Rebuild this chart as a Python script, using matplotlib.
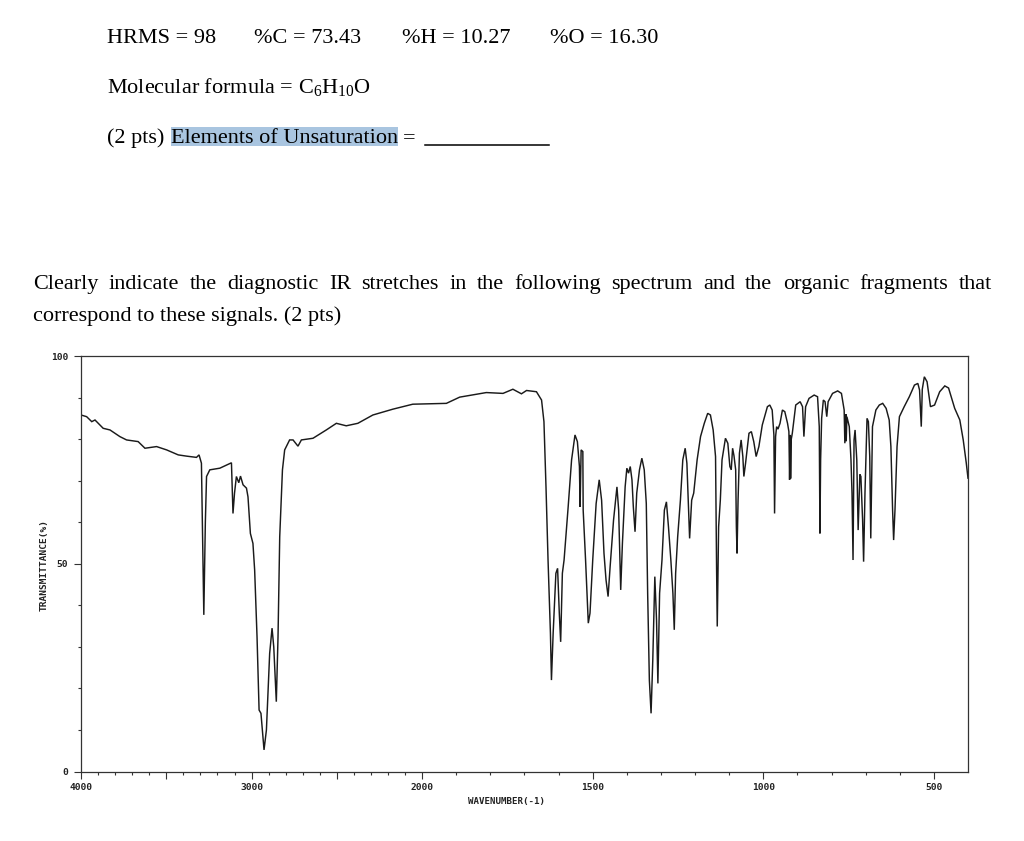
import numpy as np
import matplotlib
matplotlib.use("Agg")
import matplotlib.pyplot as plt
from matplotlib.ticker import FixedLocator, FuncFormatter
from matplotlib.patches import Rectangle
from matplotlib.lines import Line2D

# ---------------- data ----------------
wavenumber = [4000, 3967, 3937, 3918, 3870, 3830, 3772, 3733, 3665, 3625, 3557, 3498, 3430, 3381,
              3323, 3308, 3294, 3284, 3280, 3271, 3264, 3245, 3186, 3118, 3112, 3109, 3100, 3089,
              3075, 3065, 3050, 3030, 3021, 3007, 2992, 2982, 2968, 2956, 2945, 2927, 2913, 2894,
              2880, 2870, 2855, 2845, 2835, 2819, 2806, 2777, 2757, 2728, 2708, 2640, 2562, 2503,
              2445, 2377, 2289, 2172, 2055, 1929, 1890, 1812, 1763, 1734, 1709, 1694, 1665, 1650,
              1643, 1637, 1631, 1624, 1621, 1616, 1608, 1603, 1598, 1594, 1589, 1584, 1572, 1562,
              1552, 1545, 1539, 1537, 1534, 1529, 1528, 1521, 1513, 1508, 1500, 1490, 1481, 1474,
              1467, 1461, 1455, 1449, 1439, 1429, 1424, 1418, 1413, 1405, 1400, 1395, 1390, 1385,
              1381, 1376, 1371, 1363, 1356, 1349, 1343, 1339, 1334, 1329, 1324, 1318, 1313, 1309,
              1304, 1297, 1290, 1284, 1278, 1271, 1265, 1261, 1257, 1251, 1243, 1236, 1229, 1224,
              1219, 1216, 1210, 1204, 1194, 1184, 1173, 1163, 1155, 1147, 1140, 1137, 1135, 1131,
              1126, 1121, 1111, 1104, 1098, 1094, 1090, 1086, 1081, 1079, 1077, 1074, 1070, 1065,
              1060, 1057, 1052, 1042, 1035, 1028, 1021, 1013, 1003, 988, 981, 974, 969, 967, 964,
              961, 957, 951, 944, 937, 929, 925, 923, 921, 920, 918, 915, 905, 892, 885, 881, 876,
              866, 851, 841, 836, 834, 832, 829, 824, 819, 814, 810, 797, 782, 771, 763, 761, 758,
              757, 755, 748, 743, 740, 737, 734, 731, 726, 722, 717, 714, 709, 706, 702, 696, 692,
              688, 685, 680, 670, 660, 650, 640, 631, 626, 621, 618, 614, 608, 601, 587, 572, 557,
              547, 542, 537, 534, 528, 520, 510, 498, 483, 468, 457, 439, 424, 414, 405, 400]
transmittance = [85.8, 85.4, 84.2, 84.6, 82.6, 82.2, 80.6, 79.8, 79.4, 77.8, 78.2, 77.4, 76.2, 75.9,
                 75.6, 76.2, 74.2, 48.5, 37.7, 60.0, 71.0, 72.6, 73.0, 74.3, 66.1, 62.1, 67.0, 71.0,
                 69.5, 71.1, 69.0, 68.2, 66.1, 57.3, 54.9, 48.5, 32.4, 14.8, 14.0, 5.2, 10.0, 28.4,
                 34.5, 30.0, 16.8, 32.4, 56.5, 72.6, 77.4, 79.8, 79.8, 78.3, 79.8, 80.2, 82.2, 83.8,
                 83.2, 83.8, 85.8, 87.2, 88.4, 88.6, 90.1, 91.2, 91.0, 92.0, 90.9, 91.7, 91.4, 89.4,
                 84.2, 68.5, 50.9, 33.3, 22.0, 33.3, 47.7, 48.9, 38.1, 31.2, 47.7, 50.9, 63.7, 75.0,
                 81.0, 79.4, 73.4, 63.7, 77.4, 77.0, 62.9, 50.9, 35.7, 38.1, 50.9, 64.5, 70.2, 65.3,
                 52.5, 46.1, 42.1, 49.3, 60.5, 68.5, 62.9, 43.7, 54.9, 68.5, 73.0, 71.8, 73.4, 70.2,
                 63.7, 57.7, 67.0, 72.6, 75.4, 72.6, 64.5, 42.9, 22.0, 14.0, 26.8, 46.9, 36.5, 21.2,
                 42.9, 50.9, 62.9, 64.9, 58.9, 50.9, 42.9, 34.1, 47.7, 56.5, 65.3, 75.0, 77.8, 74.2,
                 62.9, 56.1, 65.3, 67.0, 75.0, 80.6, 83.8, 86.2, 85.8, 82.2, 75.8, 49.3, 34.9, 58.9,
                 65.3, 75.0, 80.2, 79.0, 73.4, 72.6, 77.8, 76.0, 72.6, 58.9, 52.5, 65.3, 76.6, 79.8,
                 75.8, 71.0, 74.2, 81.4, 81.8, 79.4, 75.8, 78.2, 83.4, 87.8, 88.2, 87.0, 81.0, 62.1, 80.6,
                 83.0, 82.4, 83.8, 87.0, 86.6, 83.8, 81.8, 70.2, 81.0, 70.5, 80.0, 81.4, 88.2, 89.0, 87.8, 80.6, 87.8,
                 89.8, 90.6, 90.2, 83.0, 57.3, 75.0, 85.0, 89.4, 89.0, 85.4, 89.0, 91.0, 91.6, 91.0, 87.0, 79.0, 86.0,
                 79.5, 85.4, 83.0, 75.0, 67.0, 50.9, 79.8, 82.2, 75.0, 58.1, 71.5, 71.0, 60.6, 50.5, 67.0, 85.0, 84.2,
                 75.8, 56.1, 83.0, 87.0, 88.2, 88.6, 87.4, 84.6, 78.2, 62.9, 55.7, 63.0, 78.2, 85.4, 87.8, 90.2, 93.0,
                 93.4, 91.8, 83.0, 92.0, 95.0, 93.8, 87.8, 88.2, 91.4, 92.8, 92.3, 87.4, 84.6, 79.8, 74.2, 70.6]

header_items = ["HRMS = 98", "%C = 73.43", "%H = 10.27", "%O = 16.30"]
formula_line = r"Molecular formula = C$_{6}$H$_{10}$O"
points_label = "(2 pts)"
highlight_text = "Elements of Unsaturation"
question_line1 = ("Clearly indicate the diagnostic IR stretches in the following spectrum "
                  "and the organic fragments that")
question_line2 = "correspond to these signals. (2 pts)"

x_major = [4000, 3500, 3000, 2500, 2000, 1500, 1000, 500]
x_labelled = [4000, 3000, 2000, 1500, 1000, 500]
x_minor = [w for w in range(500, 4000, 100) if w % 500 != 0]
y_major = [0, 50, 100]
y_minor = [10, 20, 30, 40, 60, 70, 80, 90]
x_label = "WAVENUMBER(-1)"
y_label = "TRANSMITTANCE(%)"

# ---------------- figure ----------------
plt.rcParams["mathtext.fontset"] = "custom"
plt.rcParams["mathtext.rm"] = "Liberation Serif"
plt.rcParams["mathtext.it"] = "Liberation Serif:italic"

W, H = 1024, 841
fig = plt.figure(figsize=(W / 100, H / 100), dpi=100, facecolor="white")


def fx(x):
    return x / W


def fy(y):
    return 1 - y / H


serif = dict(family="Liberation Serif", fontsize=16, color="black", va="baseline", ha="left")

# header line
for item, xp in zip(header_items, [106.7, 254, 401.7, 550]):
    fig.text(fx(xp), fy(43.3), item, **serif)

fig.text(fx(106.7), fy(93.3), formula_line, **serif)

fig.text(fx(106.7), fy(142.7), points_label, **serif)
t_hl = fig.text(fx(171), fy(142.7), highlight_text, zorder=3, **serif)
fig.canvas.draw()
renderer = fig.canvas.get_renderer()
hl_w = t_hl.get_window_extent(renderer).width
fig.add_artist(Rectangle((fx(171), fy(146)), hl_w / W, (146 - 126.7) / H,
                         transform=fig.transFigure, facecolor="#a9c5e0", edgecolor="none", zorder=1))
fig.text(fx(171 + hl_w + 5), fy(142.7), "=", **serif)
fig.add_artist(Line2D([fx(425), fx(549.3)], [fy(145), fy(145)], transform=fig.transFigure,
                      color="black", lw=1.1))

# justified first line of the question
words = question_line1.split()
wtexts = [fig.text(0, fy(289.3), w, **serif) for w in words]
fig.canvas.draw()
widths = [t.get_window_extent(renderer).width for t in wtexts]
gap = (991.7 - 33.3 - sum(widths)) / (len(words) - 1)
xpos = 33.3
for t, wd in zip(wtexts, widths):
    t.set_x(fx(xpos))
    xpos += wd + gap
fig.text(fx(33.3), fy(321), question_line2, **serif)

# ---------------- spectrum axes ----------------
ax = fig.add_axes([81 / W, (H - 771.5) / H, 887 / W, 415.5 / H])


def fwd(w):
    w = np.asarray(w, dtype=float)
    return np.where(w >= 2000, 2000 + (w - 2000) / 2.0, w)


def inv(v):
    v = np.asarray(v, dtype=float)
    return np.where(v >= 2000, 2000 + (v - 2000) * 2.0, v)


ax.set_xscale("function", functions=(fwd, inv))
ax.plot(wavenumber, transmittance, color="#1a1a1a", lw=1.05, solid_joinstyle="miter")
ax.set_xlim(4000, 400)
ax.set_ylim(0, 100)

ax.xaxis.set_major_locator(FixedLocator(x_major))
ax.xaxis.set_minor_locator(FixedLocator(x_minor))
ax.xaxis.set_major_formatter(FuncFormatter(lambda v, p: str(int(round(v))) if int(round(v)) in x_labelled else ""))
ax.yaxis.set_major_locator(FixedLocator(y_major))
ax.yaxis.set_minor_locator(FixedLocator(y_minor))
ax.yaxis.set_major_formatter(FuncFormatter(lambda v, p: str(int(round(v)))))

ax.tick_params(axis="both", which="major", direction="out", length=5.2, width=0.8,
               color="#333333", labelcolor="#222222", labelsize=6.8)
ax.tick_params(axis="both", which="minor", direction="out", length=2.4, width=0.8, color="#333333")
ax.tick_params(axis="x", which="major", pad=3)
ax.tick_params(axis="y", which="major", pad=4)
for lab in ax.get_xticklabels() + ax.get_yticklabels():
    lab.set_family("DejaVu Sans Mono")
    lab.set_fontweight("bold")

for sp in ax.spines.values():
    sp.set_linewidth(0.9)
    sp.set_color("#333333")

ax.set_xlabel(x_label, family="DejaVu Sans Mono", fontsize=6.6, color="#222222", fontweight="bold")
ax.xaxis.set_label_coords((506 - 81) / 887, -25.5 / 415.5)
ax.set_ylabel(y_label, family="DejaVu Sans Mono", fontsize=6.8, color="#222222", fontweight="bold")
ax.yaxis.set_label_coords((49 - 81) / 887, (771.5 - 565) / 415.5)

fig.savefig("out.png", dpi=100, facecolor="white")
